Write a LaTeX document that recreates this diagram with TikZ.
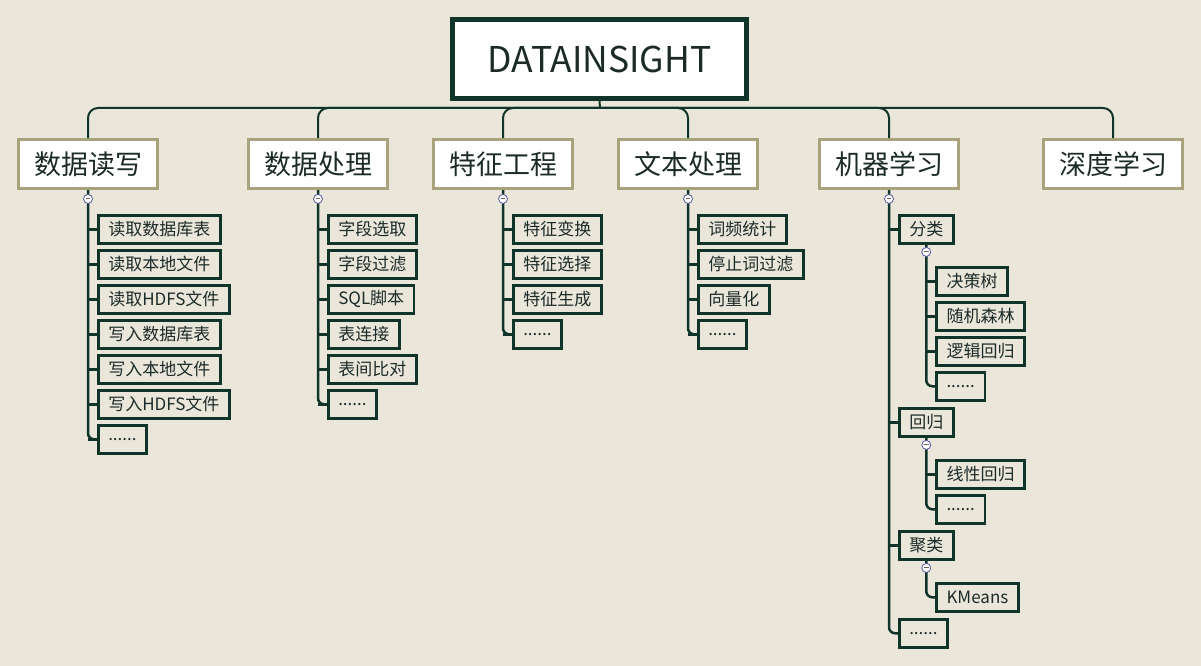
\documentclass[tikz,border=0pt]{standalone}
\usepackage{fontspec}
\setmainfont{Noto Sans CJK SC}
\usetikzlibrary{positioning}

\definecolor{paper}{HTML}{EAE7DA}
\definecolor{pine}{HTML}{10342A}
\definecolor{khaki}{HTML}{A8A37C}
\definecolor{ink}{HTML}{1C2B28}

\newcommand\moredots{......}

\tikzset{
  root/.style={draw=pine, line width=5pt, fill=white, text=ink, minimum width=294pt, minimum height=79pt, font=\fontsize{35.5}{40}\selectfont},
  cat/.style={draw=khaki, line width=3pt, fill=white, text=ink, minimum width=139pt, minimum height=49pt, font=\fontsize{27}{30}\selectfont},
  leaf/.style={draw=pine, line width=2.5pt, fill=paper, text=ink, minimum height=28pt, inner xsep=10pt, inner ysep=0pt, font=\fontsize{17}{20}\selectfont},
  tree/.style={draw=pine, line width=2.5pt, rounded corners=6pt},
  bar/.style={draw=pine, line width=2pt, rounded corners=10pt},
  knob/.style={circle, draw=gray!70!blue, line width=0.8pt, fill=white, minimum size=9pt, inner sep=0pt,
    path picture={\draw[gray!80!black, line width=0.9pt] (path picture bounding box.center) ++(-2.3pt,0) -- ++(4.6pt,0);}}
}

\begin{document}
\begin{tikzpicture}[x=1pt, y=1pt]
  \fill[paper] (0,0) rectangle (1201,-666);
  \useasboundingbox (0,0) rectangle (1201,-666);

  \node (ds) [root] at (599.5,-59) {DATAINSIGHT};
  \coordinate (hub) at (600,-108);

  % first level
  \node (dr) [cat] at (88,-164) {数据读写};
  \node (dp) [cat] at (318,-164) {数据处理};
  \node (fe) [cat] at (503,-164) {特征工程};
  \node (tp) [cat] at (688,-164) {文本处理};
  \node (ml) [cat] at (889,-164) {机器学习};
  \node (dl) [cat] at (1113,-164) {深度学习};

  \draw [bar] (ds.south) -- (hub);
  \foreach \c in {dr, dp, fe, tp, ml, dl}
    \draw [bar] (hub) -| (\c.north);

  % leaves under the first four branches
  \foreach \c/\n/\items in {dr/7/{读取数据库表,读取本地文件,读取HDFS文件,写入数据库表,写入本地文件,写入HDFS文件,\moredots},
                            dp/6/{字段选取,字段过滤,SQL脚本,表连接,表间比对,\moredots},
                            fe/4/{特征变换,特征选择,特征生成,\moredots},
                            tp/4/{词频统计,停止词过滤,向量化,\moredots}} {
    \foreach \t [count=\i, evaluate=\i as \j using int(\i-1)] in \items {
      \ifnum\i=1
        \node (\c1) [leaf, below right=24pt and 9pt of \c.south] {\t};
      \else
        \node (\c\i) [leaf, below right=4.5pt and 0pt of \c\j.south west] {\t};
      \fi
    }
    \draw [tree] (\c.south) |- (\c\n.west);
    \foreach \i in {1,...,\n}
      \draw [tree] (\c.south |- \c\i.west) -- (\c\i.west);
    \node (\c k) [knob, below=4pt of \c.south] {};
  }

  % machine learning branch
  \node (cls) [leaf, below right=24pt and 9pt of ml.south] {分类};
  \node (cls1) [leaf, below right=21.5pt and 9pt of cls.south] {决策树};
  \node (cls2) [leaf, below right=4.5pt and 0pt of cls1.south west] {随机森林};
  \node (cls3) [leaf, below right=4.5pt and 0pt of cls2.south west] {逻辑回归};
  \node (cls4) [leaf, below right=4.5pt and 0pt of cls3.south west] {\moredots};

  \node (reg) [leaf, anchor=north west, yshift=-5.5pt] at (cls.south west |- cls4.south) {回归};
  \node (reg1) [leaf, below right=21.5pt and 9pt of reg.south] {线性回归};
  \node (reg2) [leaf, below right=4.5pt and 0pt of reg1.south west] {\moredots};

  \node (clu) [leaf, anchor=north west, yshift=-5.5pt] at (reg.south west |- reg2.south) {聚类};
  \node (clu1) [leaf, below right=21.5pt and 9pt of clu.south] {KMeans};

  \node (mlx) [leaf, anchor=north west, yshift=-5.5pt] at (clu.south west |- clu1.south) {\moredots};

  \draw [tree] (ml.south) |- (mlx.west);
  \foreach \s in {cls, reg, clu}
    \draw [tree] (ml.south |- \s.west) -- (\s.west);
  \draw [tree] (cls.south) |- (cls4.west);
  \foreach \i in {1,2,3}
    \draw [tree] (cls.south |- cls\i.west) -- (cls\i.west);
  \draw [tree] (reg.south) |- (reg2.west);
  \draw [tree] (reg.south |- reg1.west) -- (reg1.west);
  \draw [tree] (clu.south) |- (clu1.west);

  \node (mlk) [knob, below=4pt of ml.south] {};
  \node (clsk) [knob, below=2.5pt of cls.south] {};
  \node (regk) [knob, below=2.5pt of reg.south] {};
  \node (cluk) [knob, below=2.5pt of clu.south] {};
\end{tikzpicture}
\end{document}
